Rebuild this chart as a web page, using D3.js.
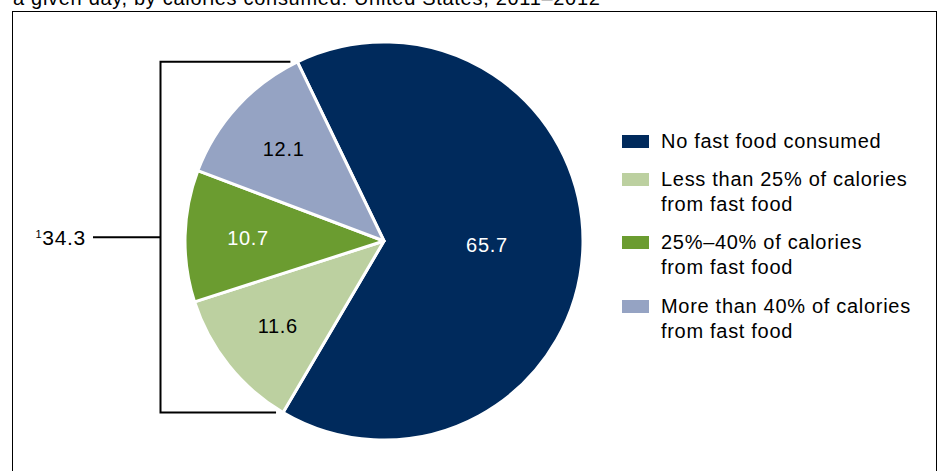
<!DOCTYPE html>
<html lang="en">
<head>
    <meta charset="UTF-8">
    <title>Fast food calories</title>
    <style>
        body { margin: 0; background: #fff; }
        svg text { font-family: "Liberation Sans", Arial, sans-serif; letter-spacing: 0.7px; }
    </style>
</head>
<body>
    <script src="https://d3js.org/d3.v7.min.js"></script>
    <script>
        const width = 941;
        const height = 471;

        // data
        const titleText = "a given day, by calories consumed: United States, 2011\u20132012";
        const categories = ["No fast food consumed", "Less than 25% of calories from fast food", "25%\u201340% of calories from fast food", "More than 40% of calories from fast food"];
        const legendLines = [["No fast food consumed"], ["Less than 25% of calories", "from fast food"], ["25%\u201340% of calories", "from fast food"], ["More than 40% of calories", "from fast food"]];
        const values = [65.7, 11.6, 10.7, 12.1];
        const colors = ["#002a5c", "#bcd0a0", "#6b9c30", "#95a3c3"];
        const labelColors = ["#fff", "#000", "#fff", "#000"];
        const bracketNote = "1";
        const bracketTotal = "34.3";

        const cx = 384, cy = 241, r = 199;
        const a0 = -25.8 * Math.PI / 180;

        const svg = d3.select("body")
            .append("svg")
            .attr("width", width)
            .attr("height", height)

        // cut off title line at top
        svg.append("text")
            .attr("x", 13)
            .attr("y", 5)
            .attr("font-size", 20)
            .attr("letter-spacing", "0.85px")
            .text(titleText)

        // frame
        svg.append("rect")
            .attr("x", 12.5)
            .attr("y", 11.5)
            .attr("width", 924)
            .attr("height", 480)
            .attr("fill", "none")
            .attr("stroke", "#000")
            .attr("stroke-width", 1)

        const pie = d3.pie()
            .sort(null)
            .startAngle(a0)
            .endAngle(a0 + 2 * Math.PI)
            .value(d => d)

        const arcs = pie(values)
        const arc = d3.arc().innerRadius(0).outerRadius(r)

        const g = svg.append("g")
            .attr("transform", "translate(" + cx + "," + cy + ")")

        g.selectAll("path")
            .data(arcs)
            .enter()
            .append("path")
            .attr("d", arc)
            .attr("fill", (d, i) => colors[i])
            .attr("stroke", "#fff")
            .attr("stroke-width", 3)
            .attr("stroke-linejoin", "round")

        const labelArc = d3.arc().innerRadius(136).outerRadius(136)
        const bigLabelArc = d3.arc().innerRadius(103).outerRadius(103)

        g.selectAll("text.val")
            .data(arcs)
            .enter()
            .append("text")
            .attr("class", "val")
            .attr("transform", (d, i) => {
                const c = (i == 0 ? bigLabelArc : labelArc).centroid(d)
                return "translate(" + c[0] + "," + (c[1] + 7) + ")"
            })
            .attr("text-anchor", "middle")
            .attr("font-size", 20)
            .attr("fill", (d, i) => labelColors[i])
            .text(d => d.data.toFixed(1))

        // bracket around the fast food slices
        const pt = a => [cx + r * Math.sin(a), cy - r * Math.cos(a)]
        const topPt = pt(arcs[3].endAngle)
        const botPt = pt(arcs[1].startAngle)
        const bx = 160.5
        const midY = (topPt[1] + botPt[1]) / 2

        svg.append("path")
            .attr("d", d3.line()([[topPt[0] - 7, topPt[1]], [bx, topPt[1]], [bx, botPt[1]], [botPt[0] - 7, botPt[1]]]))
            .attr("fill", "none")
            .attr("stroke", "#000")
            .attr("stroke-width", 2)

        svg.append("line")
            .attr("x1", 93)
            .attr("x2", bx)
            .attr("y1", midY)
            .attr("y2", midY)
            .attr("stroke", "#000")
            .attr("stroke-width", 2)

        const tot = svg.append("text")
            .attr("x", 86)
            .attr("y", midY + 8)
            .attr("text-anchor", "end")
            .attr("font-size", 21)
        tot.append("tspan")
            .attr("font-size", 11)
            .attr("dy", -7)
            .text(bracketNote)
        tot.append("tspan")
            .attr("dy", 7)
            .text(bracketTotal)

        // legend
        const legendY = [148, 186, 249, 313]
        const lg = svg.append("g")
            .selectAll("g")
            .data(categories)
            .enter()
            .append("g")
            .attr("transform", (d, i) => "translate(622," + legendY[i] + ")")

        lg.append("rect")
            .attr("x", 0)
            .attr("y", -13)
            .attr("width", 27)
            .attr("height", 13)
            .attr("fill", (d, i) => colors[i])

        lg.append("text")
            .attr("x", 39)
            .attr("font-size", 20)
            .selectAll("tspan")
            .data((d, i) => legendLines[i])
            .enter()
            .append("tspan")
            .attr("x", 39)
            .attr("y", (d, j) => j * 25)
            .text(d => d)
    </script>
</body>
</html>
